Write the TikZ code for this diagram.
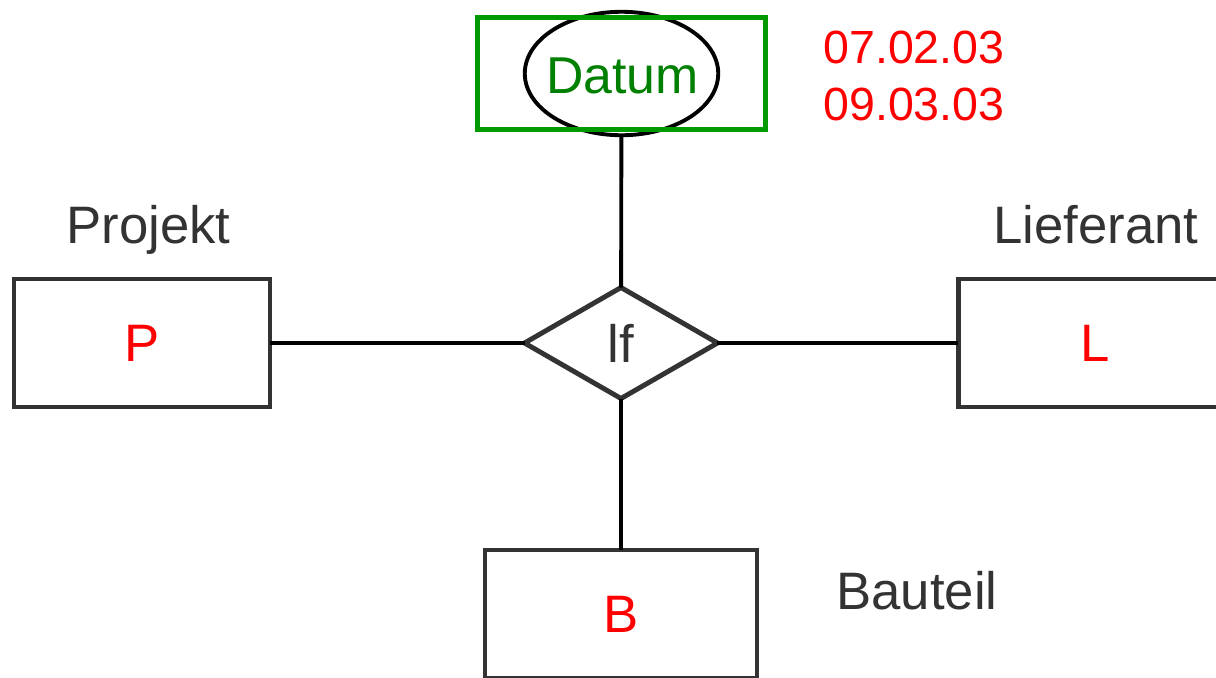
\documentclass[tikz,border=0pt]{standalone}
\usepackage{fontspec}
\setmainfont{Liberation Sans}
\usepackage{tikz}
\usetikzlibrary{shapes.geometric}
\definecolor{dunkel}{rgb}{0.2,0.2,0.2}
\definecolor{gruen}{rgb}{0,0.5,0}
\definecolor{rahmen}{rgb}{0,0.6,0}
\definecolor{rot}{rgb}{1,0,0}
\newcommand{\gross}{\fontsize{30}{36}\selectfont}

\begin{document}
\begin{tikzpicture}[x=0.02cm, y=-0.02cm,
  entity/.style={rectangle, draw=dunkel, line width=2.8pt, outer sep=0pt, inner sep=0pt, text=rot, font=\gross},
  bez/.style={text=dunkel, font=\gross, anchor=base, inner sep=0pt},
  kante/.style={black, line width=2.2pt}]
  \useasboundingbox (0,0) rectangle (1216,677);
  \clip (0,0) rectangle (1216,677);
  % Beziehung und Entitaeten
  \node (lf) [diamond, draw=dunkel, line width=2.8pt, outer sep=0pt, inner sep=0pt,
              minimum width=3.86cm, minimum height=2.22cm, text=dunkel, font=\gross] at (621,343) {lf};
  \node (p) [entity, minimum width=5.12cm, minimum height=2.56cm] at (142,343) {P};
  \node (l) [entity, minimum width=5.48cm, minimum height=2.56cm] at (1095,343) {L};
  \node (b) [entity, minimum width=5.44cm, minimum height=2.56cm] at (621,614) {B};
  % Attribut
  \node (d) [ellipse, draw=black, line width=2.2pt, outer sep=0pt, inner sep=0pt,
             minimum width=3.87cm, minimum height=2.47cm] at (621.5,73.5) {};
  \node (dbox) [rectangle, draw=rahmen, line width=3pt, outer sep=0pt,
                minimum width=5.76cm, minimum height=2.24cm] at (621.5,73.5) {};
  \node (dtext) [text=gruen, font=\fontsize{29.5}{35}\selectfont, anchor=base, inner sep=0pt] at (622.5,93) {Datum};
  % Beschriftungen
  \node (pname) [bez] at (148.5,243) {Projekt};
  \node (lname) [bez] at (1096,243) {Lieferant};
  \node (bname) [bez] at (917,609) {Bauteil};
  \node (dat1) [text=rot, font=\fontsize{26.5}{32}\selectfont, anchor=base west, inner sep=0pt] at (823,63) {07.02.03};
  \node (dat2) [text=rot, font=\fontsize{26.5}{32}\selectfont, anchor=base west, inner sep=0pt] at (823,120) {09.03.03};
  % Kanten
  \draw[kante] (d) -- (lf);
  \draw[kante] (p) -- (lf);
  \draw[kante] (lf) -- (l);
  \draw[kante] (lf) -- (b);
\end{tikzpicture}
\end{document}
